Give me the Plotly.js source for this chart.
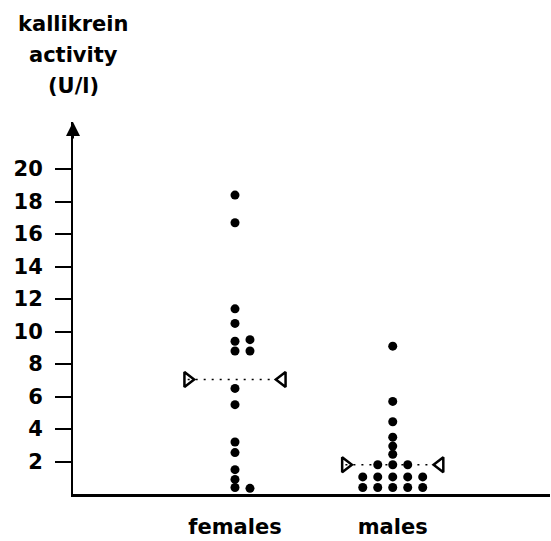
<!DOCTYPE html>
<html>
<head>
<meta charset="utf-8">
<script src="https://cdn.plot.ly/plotly-3.0.1.min.js"></script>
<style>html,body{margin:0;padding:0;background:#fff;}#chart{width:551px;height:541px;}</style>
</head>
<body>
<div id="chart"></div>
<script>
// ---- data ----
const categories = ['females', 'males'];
const femaleValues  = [18.4, 16.7, 11.4, 10.5, 9.4, 9.5, 8.8, 8.8, 6.5, 5.5, 3.2, 2.55, 1.5, 0.9, 0.4, 0.35];
const femaleColumns = [0, 0, 0, 0, 0, 1, 0, 1, 0, 0, 0, 0, 0, 0, 0, 1];
const maleValues  = [9.1, 5.7, 4.45, 3.5, 2.95, 2.45, 1.8, 1.8, 1.8, 1.05, 1.05, 1.05, 1.05, 1.05, 0.4, 0.4, 0.4, 0.4, 0.4];
const maleColumns = [0, 0, 0, 0, 0, 0, -1, 0, 1, -2, -1, 0, 1, 2, -2, -1, 0, 1, 2];
const groupMeans = [7.05, 1.8];
const yTickValues = [2, 4, 6, 8, 10, 12, 14, 16, 18, 20];
const yTitleLines = ['kallikrein', 'activity', '(U/l)'];

// ---- styling ----
const FONT = {family: 'DejaVu Sans', size: 21, color: '#000', weight: 'bold'};
const colStep = 0.095;
const halfWidth = 0.3;
const titleLineGap = 31;
const catPos = categories.map((c, i) => i + 1);

const traces = [];
[[femaleValues, femaleColumns], [maleValues, maleColumns]].forEach((g, i) => {
  traces.push({
    type: 'scatter', mode: 'markers',
    x: g[1].map(c => catPos[i] + c * colStep),
    y: g[0],
    marker: {color: '#000', size: 9},
    hoverinfo: 'skip'
  });
});
groupMeans.forEach((m, i) => {
  traces.push({
    type: 'scatter', mode: 'lines',
    x: [catPos[i] - halfWidth, catPos[i] + halfWidth],
    y: [m, m],
    line: {color: '#000', width: 1.6, dash: '2px,6px'},
    hoverinfo: 'skip'
  });
  traces.push({
    type: 'scatter', mode: 'markers',
    x: [catPos[i] - halfWidth, catPos[i] + halfWidth],
    y: [m, m],
    marker: {symbol: ['triangle-right-open', 'triangle-left-open'], size: 13, color: '#000', line: {width: 2.5, color: '#000'}},
    hoverinfo: 'skip'
  });
});

const annotations = [
  {
    xref: 'paper', yref: 'paper', x: 0, y: 1,
    ax: 0, ay: 18, axref: 'pixel', ayref: 'pixel',
    text: '', showarrow: true, arrowhead: 2, arrowsize: 1.4, arrowwidth: 2, arrowcolor: '#000'
  }
];
yTitleLines.forEach((t, i) => {
  annotations.push({
    xref: 'paper', yref: 'paper', x: 0, y: 1,
    yshift: 98 - i * titleLineGap,
    xanchor: 'center', yanchor: 'middle', align: 'center',
    text: t, showarrow: false, font: FONT
  });
});

const layout = {
  width: 551, height: 541,
  margin: {l: 73, r: 1, t: 122, b: 47},
  paper_bgcolor: '#fff', plot_bgcolor: '#fff',
  showlegend: false,
  font: FONT,
  xaxis: {
    range: [-0.027, 2.997],
    tickvals: catPos, ticktext: categories,
    ticks: '', showgrid: false, zeroline: false,
    showline: true, linecolor: '#000', linewidth: 2.5,
    ticklabelstandoff: 12,
    tickfont: FONT
  },
  yaxis: {
    range: [0, 22.9],
    tickvals: yTickValues,
    ticks: 'outside', ticklen: 16, tickwidth: 2, tickcolor: '#000',
    showgrid: false, zeroline: false,
    showline: true, linecolor: '#000', linewidth: 2,
    ticklabelstandoff: 8,
    tickfont: FONT
  },
  annotations: annotations
};

Plotly.newPlot('chart', traces, layout, {displayModeBar: false, staticPlot: true});
</script>
</body>
</html>
